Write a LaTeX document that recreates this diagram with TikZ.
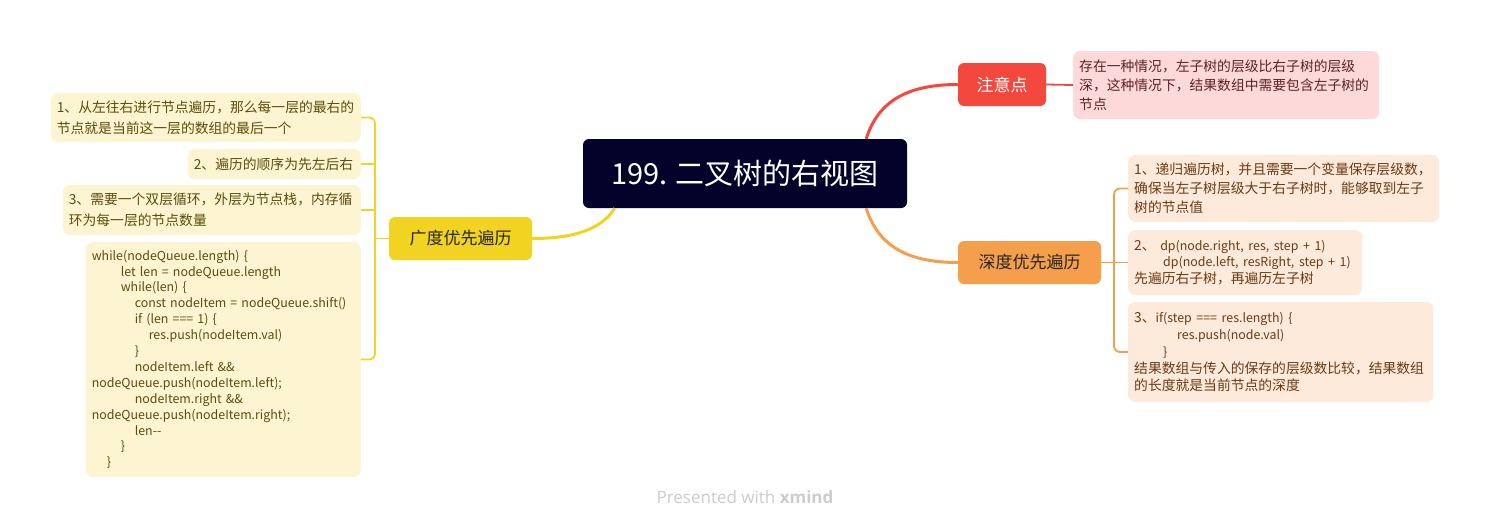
\documentclass[tikz,border=0pt]{standalone}
\usepackage{fontspec}
\setmainfont{Noto Sans CJK SC}
\newfontfamily\footfont{Open Sans}
\definecolor{cmain}{HTML}{02022A}
\definecolor{cred}{HTML}{F4473E}
\definecolor{corange}{HTML}{F59F4C}
\definecolor{cyellow}{HTML}{F2D321}
\definecolor{cnotefill}{HTML}{FDD9D9}
\definecolor{cnotetext}{HTML}{5E2222}
\definecolor{corfill}{HTML}{FDEADB}
\definecolor{cortext}{HTML}{6A3B14}
\definecolor{cyfill}{HTML}{FDF5D2}
\definecolor{cytext}{HTML}{5D4C0A}
\definecolor{cfoot}{HTML}{CCCCCC}
\newcommand\latin[1]{{\fontsize{12.4}{12}\selectfont #1}}
\begin{document}
\begin{tikzpicture}[x=1pt,y=-1pt,
  topic/.style={rounded corners=6pt, inner sep=0pt, align=center, font=\fontsize{17}{20}\selectfont},
  child/.style={rounded corners=7pt, inner xsep=6pt, inner ysep=0pt, align=left,
    font=\fontsize{13.8}{19}\selectfont,
    execute at begin node={\hyphenpenalty=10000\exhyphenpenalty=10000\hbadness=10000\hfuzz=20pt}},
  ychild/.style={child, fill=cyfill, text=cytext, anchor=east},
  ochild/.style={child, fill=corfill, text=cortext, anchor=west},
  mainline/.style={line width=3pt},
  brline/.style={line width=1.8pt, rounded corners=6pt}
]
\useasboundingbox (0,0) rectangle (1490,528);
\fill[white] (0,0) rectangle (1490,528);

% central
\node[topic, fill=cmain, text=white, minimum width=324pt, minimum height=69pt,
  font=\fontsize{29}{32}\selectfont] (C) at (745,173.5) {199. 二叉树的右视图};

% main topics
\node[topic, fill=cred, text=white, minimum width=88pt, minimum height=43pt] (Z) at (1002,84.5) {注意点};
\node[topic, fill=corange, text=black!85, minimum width=143pt, minimum height=43pt] (D) at (1029.5,262.5) {深度优先遍历};
\node[topic, fill=cyellow, text=black!85, minimum width=143pt, minimum height=43pt] (B) at (460.5,238.5) {广度优先遍历};

% note
\node[child, fill=cnotefill, text=cnotetext, anchor=west, text width=294pt, minimum height=68pt] (N) at (1073,85)
  {存在一种情况，左子树的层级比右子树的层级\\深，这种情况下，结果数组中需要包含左子树的\\节点};

% right children
\node[ochild, text width=299pt, minimum height=67pt] (R1) at (1128,188.5)
  {1、递归遍历树，并且需要一个变量保存层级数，\\确保当左子树层级大于右子树时，能够取到左子\\树的节点值};
\node[ochild, text width=222pt, minimum height=65pt, font=\fontsize{13.8}{16.5}\selectfont] (R2) at (1128,262.5)
  {2、 \latin{dp(node.right, res, step + 1)}\\\hspace*{29pt}\latin{dp(node.left, resRight, step + 1)}\\先遍历右子树，再遍历左子树};
\node[ochild, text width=293pt, minimum height=100pt, font=\fontsize{13.8}{17}\selectfont] (R3) at (1128,352)
  {3、\latin{if(step === res.length) \{}\\\hspace*{43pt}\latin{res.push(node.val)}\\\hspace*{29pt}\latin{\}}\\结果数组与传入的保存的层级数比较，结果数组\\的长度就是当前节点的深度};

% left children
\node[ychild, text width=298pt, minimum height=49pt, font=\fontsize{13.8}{21}\selectfont] (L1) at (361,117.5)
  {1、从左往右进行节点遍历，那么每一层的最右的\\节点就是当前这一层的数组的最后一个};
\node[ychild, text width=161pt, minimum height=30pt] (L2) at (361,164)
  {2、遍历的顺序为先左后右};
\node[ychild, text width=286pt, minimum height=50pt, font=\fontsize{13.8}{21}\selectfont] (L3) at (361,210)
  {3、需要一个双层循环，外层为节点栈，内存循\\环为每一层的节点数量};
\node[ychild, text width=263pt, minimum height=235pt, font=\fontsize{12.4}{15.9}\selectfont] (L4) at (361,359.5)
  {while(nodeQueue.length) \{\\
\hspace*{29pt}let len = nodeQueue.length\\
\hspace*{29pt}while(len) \{\\
\hspace*{43pt}const nodeItem = nodeQueue.shift()\\
\hspace*{43pt}if (len === 1) \{\\
\hspace*{57pt}res.push(nodeItem.val)\\
\hspace*{43pt}\}\\
\hspace*{43pt}nodeItem.left \&\&\\
nodeQueue.push(nodeItem.left);\\
\hspace*{43pt}nodeItem.right \&\&\\
nodeQueue.push(nodeItem.right);\\
\hspace*{43pt}len-{}-\\
\hspace*{29pt}\}\\
\hspace*{15pt}\}};

% main curves
\draw[mainline, cred] ([xshift=-41pt]C.north east) .. controls +(12,-38) and +(-50,0) .. (Z.west);
\draw[mainline, corange] ([xshift=-41pt]C.south east) .. controls +(12,38) and +(-50,0) .. (D.west);
\draw[mainline, cyellow] ([xshift=32pt]C.south west) .. controls +(-14,22) and +(40,0) .. (B.east);
\draw[line width=1.8pt, cred] (Z.east) -- (N.west);

% brackets
\coordinate (yb) at (375,0);
\coordinate (ob) at (1114,0);
\draw[brline, cyellow] (L1.east) -- (L1.east -| yb) -- (L4.east -| yb) -- (L4.east);
\draw[brline, cyellow] (L2.east) -- (L2.east -| yb);
\draw[brline, cyellow] (L3.east) -- (L3.east -| yb);
\draw[brline, cyellow] (B.west) -- (B.west -| yb);
\draw[brline, corange] (R1.west) -- (R1.west -| ob) -- (R3.west -| ob) -- (R3.west);
\draw[brline, corange] (R2.west) -- (R2.west -| ob);
\draw[brline, corange] (D.east) -- (D.east -| ob);

% footer
\node[text=cfoot, font=\footfont\fontsize{17}{20}\selectfont, inner sep=0pt] (F) at (745,497) {Presented with \textbf{xmind}};
\end{tikzpicture}
\end{document}
